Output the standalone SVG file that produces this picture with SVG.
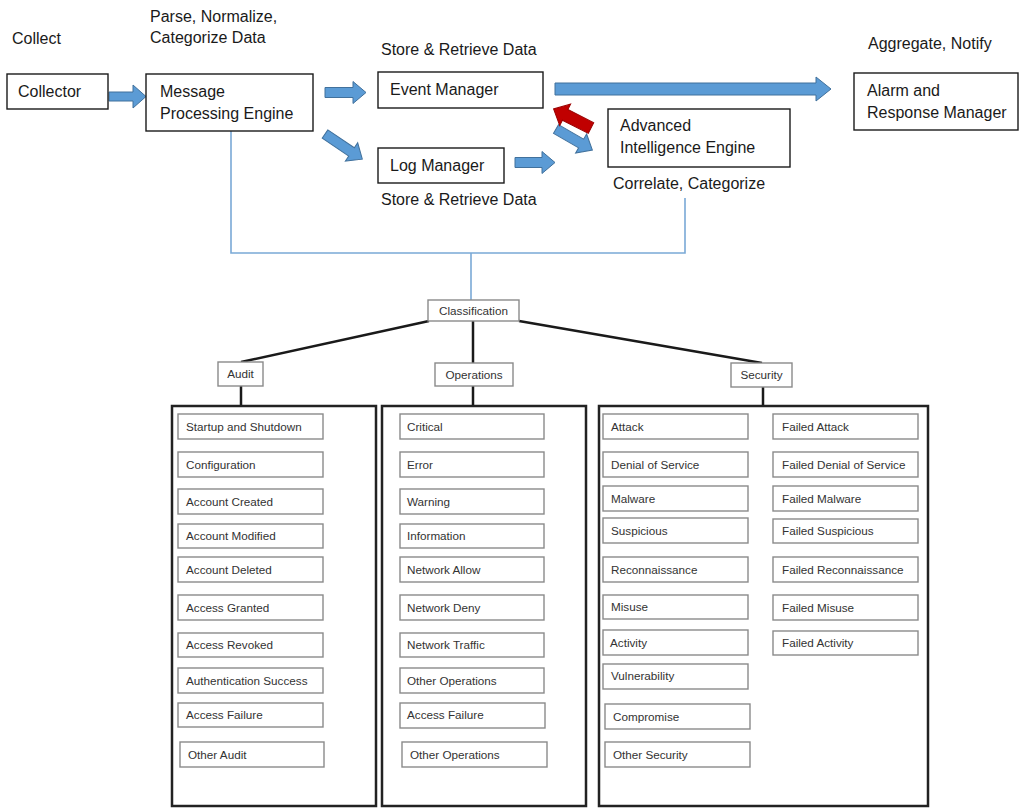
<svg xmlns="http://www.w3.org/2000/svg" width="1020" height="808" viewBox="0 0 1020 808">
  <style>
    .bg { fill: #ffffff; }
    .box { fill: #ffffff; stroke: #1a1a1a; stroke-width: 1.4; }
    .lbl { font-family: "Liberation Sans", Arial, sans-serif; font-size: 16px; fill: #1a1a1a; }
    .arrow { fill: #5b9bd5; stroke: #41719c; stroke-width: 1; }
    .arrow-red { fill: #c00000; stroke: #9a0000; stroke-width: 1; }
    .link { fill: none; stroke: #7aa9d6; stroke-width: 1.6; }
    .tree { fill: none; stroke: #1a1a1a; stroke-width: 2.5; }
    .cat { fill: #ffffff; stroke: #8a8a8a; stroke-width: 1.4; }
    .cont { fill: #ffffff; stroke: #222222; stroke-width: 2.5; }
    .item { fill: #ffffff; stroke: #8a8a8a; stroke-width: 1.4; }
    .small { font-family: "Liberation Sans", Arial, sans-serif; font-size: 11.7px; fill: #333333; }
  </style>

  <rect class="bg" x="0" y="0" width="1020" height="808"/>

  <!-- stage captions -->
  <g id="captions">
    <text class="lbl" x="12" y="44">Collect</text>
    <text class="lbl" x="150" y="22">Parse, Normalize,</text>
    <text class="lbl" x="150" y="43">Categorize Data</text>
    <text class="lbl" x="381" y="55">Store &amp; Retrieve Data</text>
    <text class="lbl" x="381" y="205">Store &amp; Retrieve Data</text>
    <text class="lbl" x="613" y="189">Correlate, Categorize</text>
    <text class="lbl" x="868" y="49">Aggregate, Notify</text>
  </g>

  <!-- connectors -->
  <g id="connectors">
    <!-- feeds into the classification tree -->
    <polyline class="link" points="231,131 231,253 685,253 685,198"/>
    <line class="link" x1="471" y1="253" x2="471" y2="301"/>

    <!-- block arrows along the pipeline -->
    <polygon class="arrow" transform="translate(109,96.5)" points="0,-4.5 24,-4.5 24,-11.5 37,0 24,11.5 24,4.5 0,4.5"/>
    <polygon class="arrow" transform="translate(325,92.5)" points="0,-5 28,-5 28,-11 41,0 28,11 28,5 0,5"/>
    <polygon class="arrow" transform="translate(325,134) rotate(34)" points="0,-5 32,-5 32,-11 45,0 32,11 32,5 0,5"/>
    <polygon class="arrow" transform="translate(515,162.5)" points="0,-5 27,-5 27,-11 40,0 27,11 27,5 0,5"/>
    <polygon class="arrow" transform="translate(556,129) rotate(30)" points="0,-5 29,-5 29,-11 42,0 29,11 29,5 0,5"/>
    <polygon class="arrow-red" transform="translate(591,128) rotate(207)" points="0,-6 29,-6 29,-12 42,0 29,12 29,6 0,6"/>
    <polygon class="arrow" transform="translate(555,89)" points="0,-6 261,-6 261,-12 276,0 261,12 261,6 0,6"/>

    <!-- classification tree -->
    <line class="tree" x1="429" y1="321" x2="241" y2="362"/>
    <line class="tree" x1="473" y1="321" x2="473" y2="363"/>
    <line class="tree" x1="519" y1="321" x2="762" y2="363"/>
    <line class="tree" x1="241" y1="386" x2="241" y2="406"/>
    <line class="tree" x1="473" y1="386" x2="473" y2="406"/>
    <line class="tree" x1="763" y1="387" x2="763" y2="406"/>
  </g>

  <!-- pipeline nodes -->
  <g id="collector">
    <rect class="box" x="7" y="74" width="101" height="35"/>
    <text class="lbl" x="18" y="97">Collector</text>
  </g>
  <g id="message-processing-engine">
    <rect class="box" x="146" y="74" width="167" height="57"/>
    <text class="lbl" x="160" y="97">Message</text>
    <text class="lbl" x="160" y="119">Processing Engine</text>
  </g>
  <g id="event-manager">
    <rect class="box" x="378" y="72" width="165" height="36"/>
    <text class="lbl" x="390" y="95">Event Manager</text>
  </g>
  <g id="log-manager">
    <rect class="box" x="378" y="148" width="126" height="35"/>
    <text class="lbl" x="390" y="171">Log Manager</text>
  </g>
  <g id="advanced-intelligence-engine">
    <rect class="box" x="608" y="109" width="182" height="58"/>
    <text class="lbl" x="620" y="131">Advanced</text>
    <text class="lbl" x="620" y="153">Intelligence Engine</text>
  </g>
  <g id="alarm-response-manager">
    <rect class="box" x="854" y="73" width="164" height="57"/>
    <text class="lbl" x="867" y="96">Alarm and</text>
    <text class="lbl" x="867" y="118">Response Manager</text>
  </g>

  <!-- classification heads -->
  <g id="classification">
    <rect class="cat" x="428" y="300" width="91" height="21"/>
    <text class="small" x="473.5" y="315" text-anchor="middle">Classification</text>
  </g>
  <g id="audit">
    <rect class="cat" x="218" y="362" width="45" height="24"/>
    <text class="small" x="240.5" y="378" text-anchor="middle">Audit</text>
  </g>
  <g id="operations">
    <rect class="cat" x="435" y="363" width="78" height="23"/>
    <text class="small" x="474" y="379" text-anchor="middle">Operations</text>
  </g>
  <g id="security">
    <rect class="cat" x="731" y="363" width="61" height="24"/>
    <text class="small" x="761.5" y="379" text-anchor="middle">Security</text>
  </g>

  <!-- Audit events -->
  <g id="audit-list">
    <rect class="cont" x="172" y="406" width="204" height="400"/>
    <rect class="item" x="178" y="414" width="145" height="25"/><text class="small" x="186" y="431">Startup and Shutdown</text>
    <rect class="item" x="178" y="452" width="145" height="25"/><text class="small" x="186" y="469">Configuration</text>
    <rect class="item" x="178" y="489" width="145" height="25"/><text class="small" x="186" y="506">Account Created</text>
    <rect class="item" x="178" y="524" width="145" height="24"/><text class="small" x="186" y="540">Account Modified</text>
    <rect class="item" x="178" y="557" width="145" height="25"/><text class="small" x="186" y="574">Account Deleted</text>
    <rect class="item" x="178" y="595" width="145" height="25"/><text class="small" x="186" y="612">Access Granted</text>
    <rect class="item" x="178" y="633" width="145" height="24"/><text class="small" x="186" y="649">Access Revoked</text>
    <rect class="item" x="178" y="668" width="145" height="25"/><text class="small" x="186" y="685">Authentication Success</text>
    <rect class="item" x="178" y="703" width="145" height="24"/><text class="small" x="186" y="719">Access Failure</text>
    <rect class="item" x="180" y="742" width="144" height="25"/><text class="small" x="188" y="759">Other Audit</text>
  </g>

  <!-- Operations events -->
  <g id="operations-list">
    <rect class="cont" x="382" y="406" width="204" height="400"/>
    <rect class="item" x="400" y="414" width="144" height="25"/><text class="small" x="407" y="431">Critical</text>
    <rect class="item" x="400" y="452" width="144" height="25"/><text class="small" x="407" y="469">Error</text>
    <rect class="item" x="400" y="489" width="144" height="25"/><text class="small" x="407" y="506">Warning</text>
    <rect class="item" x="400" y="524" width="144" height="24"/><text class="small" x="407" y="540">Information</text>
    <rect class="item" x="400" y="557" width="144" height="25"/><text class="small" x="407" y="574">Network Allow</text>
    <rect class="item" x="400" y="595" width="144" height="25"/><text class="small" x="407" y="612">Network Deny</text>
    <rect class="item" x="400" y="633" width="144" height="24"/><text class="small" x="407" y="649">Network Traffic</text>
    <rect class="item" x="400" y="668" width="144" height="25"/><text class="small" x="407" y="685">Other Operations</text>
    <rect class="item" x="400" y="703" width="145" height="25"/><text class="small" x="407" y="719">Access Failure</text>
    <rect class="item" x="402" y="742" width="145" height="25"/><text class="small" x="410" y="759">Other Operations</text>
  </g>

  <!-- Security events -->
  <g id="security-list">
    <rect class="cont" x="599" y="406" width="329" height="400"/>
    <rect class="item" x="603" y="414" width="145" height="25"/><text class="small" x="611" y="431">Attack</text>
    <rect class="item" x="603" y="452" width="145" height="25"/><text class="small" x="611" y="469">Denial of Service</text>
    <rect class="item" x="603" y="486" width="145" height="25"/><text class="small" x="611" y="503">Malware</text>
    <rect class="item" x="603" y="518" width="145" height="25"/><text class="small" x="611" y="535">Suspicious</text>
    <rect class="item" x="603" y="557" width="145" height="25"/><text class="small" x="611" y="574">Reconnaissance</text>
    <rect class="item" x="603" y="595" width="145" height="24"/><text class="small" x="611" y="611">Misuse</text>
    <rect class="item" x="603" y="630" width="145" height="25"/><text class="small" x="610" y="647">Activity</text>
    <rect class="item" x="603" y="664" width="145" height="25"/><text class="small" x="611" y="680">Vulnerability</text>
    <rect class="item" x="605" y="704" width="145" height="25"/><text class="small" x="613" y="721">Compromise</text>
    <rect class="item" x="605" y="742" width="145" height="25"/><text class="small" x="613" y="759">Other Security</text>

    <rect class="item" x="773" y="414" width="145" height="25"/><text class="small" x="782" y="431">Failed Attack</text>
    <rect class="item" x="773" y="452" width="145" height="25"/><text class="small" x="782" y="469">Failed Denial of Service</text>
    <rect class="item" x="773" y="486" width="145" height="25"/><text class="small" x="782" y="503">Failed Malware</text>
    <rect class="item" x="773" y="519" width="145" height="24"/><text class="small" x="782" y="535">Failed Suspicious</text>
    <rect class="item" x="773" y="557" width="145" height="25"/><text class="small" x="782" y="574">Failed Reconnaissance</text>
    <rect class="item" x="773" y="595" width="145" height="25"/><text class="small" x="782" y="612">Failed Misuse</text>
    <rect class="item" x="773" y="631" width="145" height="24"/><text class="small" x="782" y="647">Failed Activity</text>
  </g>
</svg>
